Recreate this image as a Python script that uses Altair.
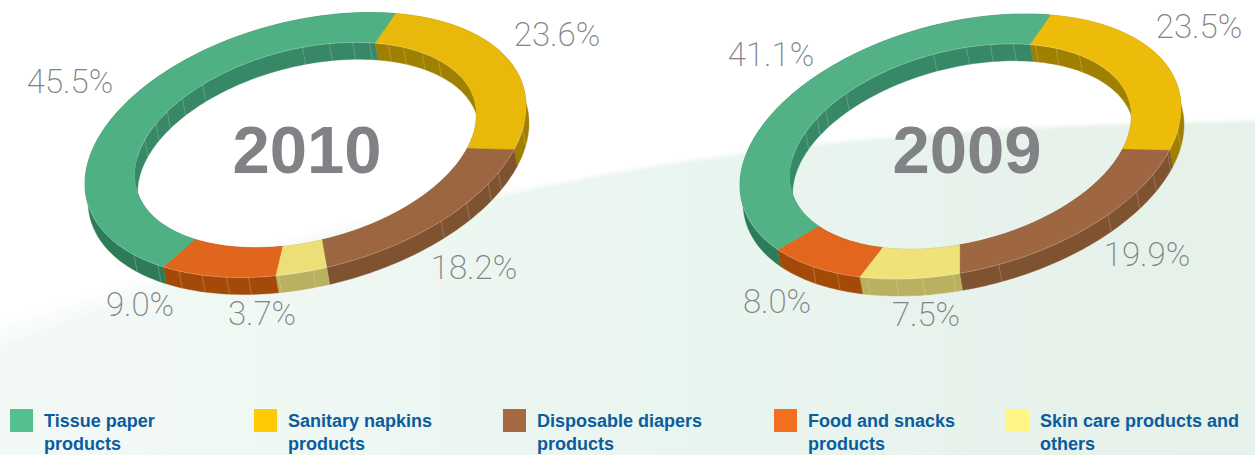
import math
import numpy as np
import altair as alt

# Sales mix by product group, in percent
categories = ["Tissue paper products", "Sanitary napkins products", "Disposable diapers products",
              "Food and snacks products", "Skin care products and others"]
years = ["2010", "2009"]
shares = {
    "2010": [45.5, 23.6, 18.2, 9.0, 3.7],
    "2009": [41.1, 23.5, 19.9, 8.0, 7.5],
}
# Clockwise drawing order around each ring
ring_order = [1, 2, 4, 3, 0]

top_colors = {
    "2010": ["#4FB083", "#E8B90A", "#9B6640", "#E0661E", "#ECDF78"],
    "2009": ["#52B185", "#EDBC0A", "#9E6641", "#E2661E", "#EFE279"],
}
inner_wall_colors = ["#378866", "#A08000", "#7F5230", "#A44A08", "#B9B060"]
outer_wall_colors = ["#2E7B59", "#A08000", "#7F5230", "#A44A08", "#B9B060"]
legend_colors = ["#55BF8E", "#FFCB05", "#A66A42", "#F47021", "#FFF685"]

legend_lines = [["Tissue paper", "products"], ["Sanitary napkins", "products"],
                ["Disposable diapers", "products"], ["Food and snacks", "products"],
                ["Skin care products and", "others"]]
legend_swatch_x = [10, 254, 503, 774, 1006]
legend_text_x = [44, 288, 537, 808, 1040]

# Ring geometry: an extruded, tilted ellipse
ring_center = {"2010": (305.5, 145.0), "2009": (960.5, 146.5)}
RX, RY, SKEW, HOLE = 220.5, 132.5, 17.0, 0.775
EXTRUDE = (3.0, 17.0)
START_ANGLE = 66.0

# Angles of the thin facet seams on the walls
inner_seams = {"2010": [39, 47, 55, 61, 68, 74, 82, 91, 127, 136, 144, 151, 160],
               "2009": [46, 56, 64, 72, 80, 88, 99, 132, 142, 147, 155]}
outer_seams = {"2010": [-10, -29, -34, -43, -52, -88, -97, -105, -111, -118, -125, -132, -141],
               "2009": [-10, -20, -29, -37, -48, -80, -92, -100, -107, -115, -124, -132]}

label_pos = {
    "2010": [(70, 83), (557, 36), (474, 269), (140, 306), (262, 315)],
    "2009": [(771, 56), (1199, 28), (1147, 256), (777, 303), (926, 316)],
}
year_pos = {"2010": (307, 153), "2009": (967, 153)}


def rim(year, t, scale=1.0, drop=False):
    cx, cy = ring_center[year]
    a = math.radians(t)
    x = cx + RX * scale * math.cos(a)
    y = cy - RY * scale * math.sin(a + math.radians(SKEW))
    if drop:
        x += EXTRUDE[0]
        y += EXTRUDE[1]
    return [round(x, 2), round(y, 2)]


def arc(year, t0, t1, scale=1.0, drop=False):
    n = max(2, int(abs(t1 - t0) / 1.5) + 2)
    return [rim(year, t, scale, drop) for t in np.linspace(t0, t1, n)]


def feature(kind, coords, color=None):
    return {"type": "Feature", "properties": {"color": color},
            "geometry": {"type": kind, "coordinates": coords}}


walls, tops, seams = [], [], []
for year in years:
    t = START_ANGLE
    for idx in ring_order:
        end = t - shares[year][idx] * 3.6
        outer = arc(year, t, end)
        inner = arc(year, end, t, HOLE)
        outer_low = arc(year, end, t, 1.0, True)
        inner_low = arc(year, t, end, HOLE, True)
        walls.append(feature("Polygon", [outer + outer_low + [outer[0]]], outer_wall_colors[idx]))
        walls.append(feature("Polygon", [inner_low + inner + [inner_low[0]]], inner_wall_colors[idx]))
        tops.append(feature("Polygon", [outer + inner + [outer[0]]], top_colors[year][idx]))
        t = end
    for s in inner_seams[year]:
        seams.append(feature("LineString", [rim(year, s, HOLE), rim(year, s, HOLE, True)]))
    for s in outer_seams[year]:
        seams.append(feature("LineString", [rim(year, s), rim(year, s, 1.0, True)]))
    # bright rims where the top surface meets the walls
    seams.append(feature("LineString", arc(year, -8, -170)))
    seams.append(feature("LineString", arc(year, 25, 170, HOLE)))

# Pale backdrop sweeping up to the right, its edge softer towards the left
edge_x = np.array([0, 100, 170, 330, 500, 560, 740, 1000, 1130, 1255])
edge_y = np.array([342, 317, 285, 238, 195, 185, 160, 130, 125, 124])
fit = np.polyfit(edge_x, edge_y, 4)
curve_x = np.linspace(0, 1255, 90)


def backdrop_shape(lift):
    curve = []
    for x in curve_x:
        soft = max(0.2, 1.0 - x / 700.0)
        curve.append([round(float(x), 1), round(float(np.polyval(fit, x) - lift * soft), 1)])
    return feature("Polygon", [curve + [[1255, 455], [0, 455], curve[0]]])


frame = feature("Polygon", [[[0, 0], [1255, 0], [1255, 455], [0, 455], [0, 0]]])

projection = alt.Projection(type="identity", scale=1, translate=[0, 0])


def geo(rows):
    return alt.Chart(alt.Data(values=rows))


backdrop_fill = alt.LinearGradient(
    gradient="linear", x1=0, x2=1, y1=0, y2=0,
    stops=[alt.GradientStop(color="#F3F9F6", offset=0),
           alt.GradientStop(color="#F0F8F4", offset=0.2),
           alt.GradientStop(color="#E9F5EF", offset=0.55),
           alt.GradientStop(color="#E5F1E9", offset=0.95)],
)

frame_layer = geo([frame]).mark_geoshape(fill="#ffffff", stroke=None).project(**projection.to_dict())
backdrop_layers = [
    geo([backdrop_shape(lift)]).mark_geoshape(stroke=None, fill=backdrop_fill, opacity=alpha)
    .project(**projection.to_dict())
    for lift, alpha in [(24, 0.2), (16, 0.3), (8, 0.45), (0, 1.0)]
]

fill_by_color = alt.Fill("properties.color:N", scale=None, legend=None)
wall_layer = geo(walls).mark_geoshape(strokeWidth=0.4).encode(
    fill=fill_by_color, stroke=alt.Stroke("properties.color:N", scale=None, legend=None)
).project(**projection.to_dict())
top_layer = geo(tops).mark_geoshape(strokeWidth=0.4).encode(
    fill=fill_by_color, stroke=alt.Stroke("properties.color:N", scale=None, legend=None)
).project(**projection.to_dict())
seam_layer = geo(seams).mark_geoshape(
    filled=False, stroke="#ffffff", strokeWidth=0.5, strokeOpacity=0.4
).project(**projection.to_dict())

percent_rows = []
for year in years:
    for value, (x, y) in zip(shares[year], label_pos[year]):
        percent_rows.append({"label": f"{value:.1f}%", "px": x, "py": y})
year_rows = [{"label": y, "px": year_pos[y][0], "py": year_pos[y][1]} for y in years]
swatch_rows = [{"px": x + 11.5, "py": 420.5, "color": c} for x, c in zip(legend_swatch_x, legend_colors)]
legend_rows = []
for x, lines in zip(legend_text_x, legend_lines):
    for i, line in enumerate(lines):
        legend_rows.append({"label": line, "px": x, "py": 427 + 23 * i})

px = alt.X("px:Q", scale=None, axis=None)
py = alt.Y("py:Q", scale=None, axis=None)

percent_layer = alt.Chart(alt.Data(values=percent_rows)).mark_text(
    font="Roboto", fontWeight=200, fontSize=33, color="#808285", align="center", baseline="middle"
).encode(x=px, y=py, text="label:N")
year_layer = alt.Chart(alt.Data(values=year_rows)).mark_text(
    font="Liberation Sans", fontWeight="bold", fontSize=67, color="#808285", align="center", baseline="middle"
).encode(x=px, y=py, text="label:N")
swatch_layer = alt.Chart(alt.Data(values=swatch_rows)).mark_square(size=529, opacity=1).encode(
    x=px, y=py, color=alt.Color("color:N", scale=None, legend=None)
)
legend_layer = alt.Chart(alt.Data(values=legend_rows)).mark_text(
    font="Liberation Sans", fontWeight="bold", fontSize=18, color="#0B5C9E", align="left", baseline="alphabetic"
).encode(x=px, y=py, text="label:N")

chart = alt.layer(
    frame_layer, *backdrop_layers, wall_layer, top_layer, seam_layer,
    percent_layer, year_layer, swatch_layer, legend_layer,
).properties(width=1255, height=455, padding=0, autosize=alt.AutoSizeParams(type="none"),
             background="#ffffff").configure_view(stroke=None)

chart.save("out.html", embed_options={"renderer": "svg", "actions": False})
